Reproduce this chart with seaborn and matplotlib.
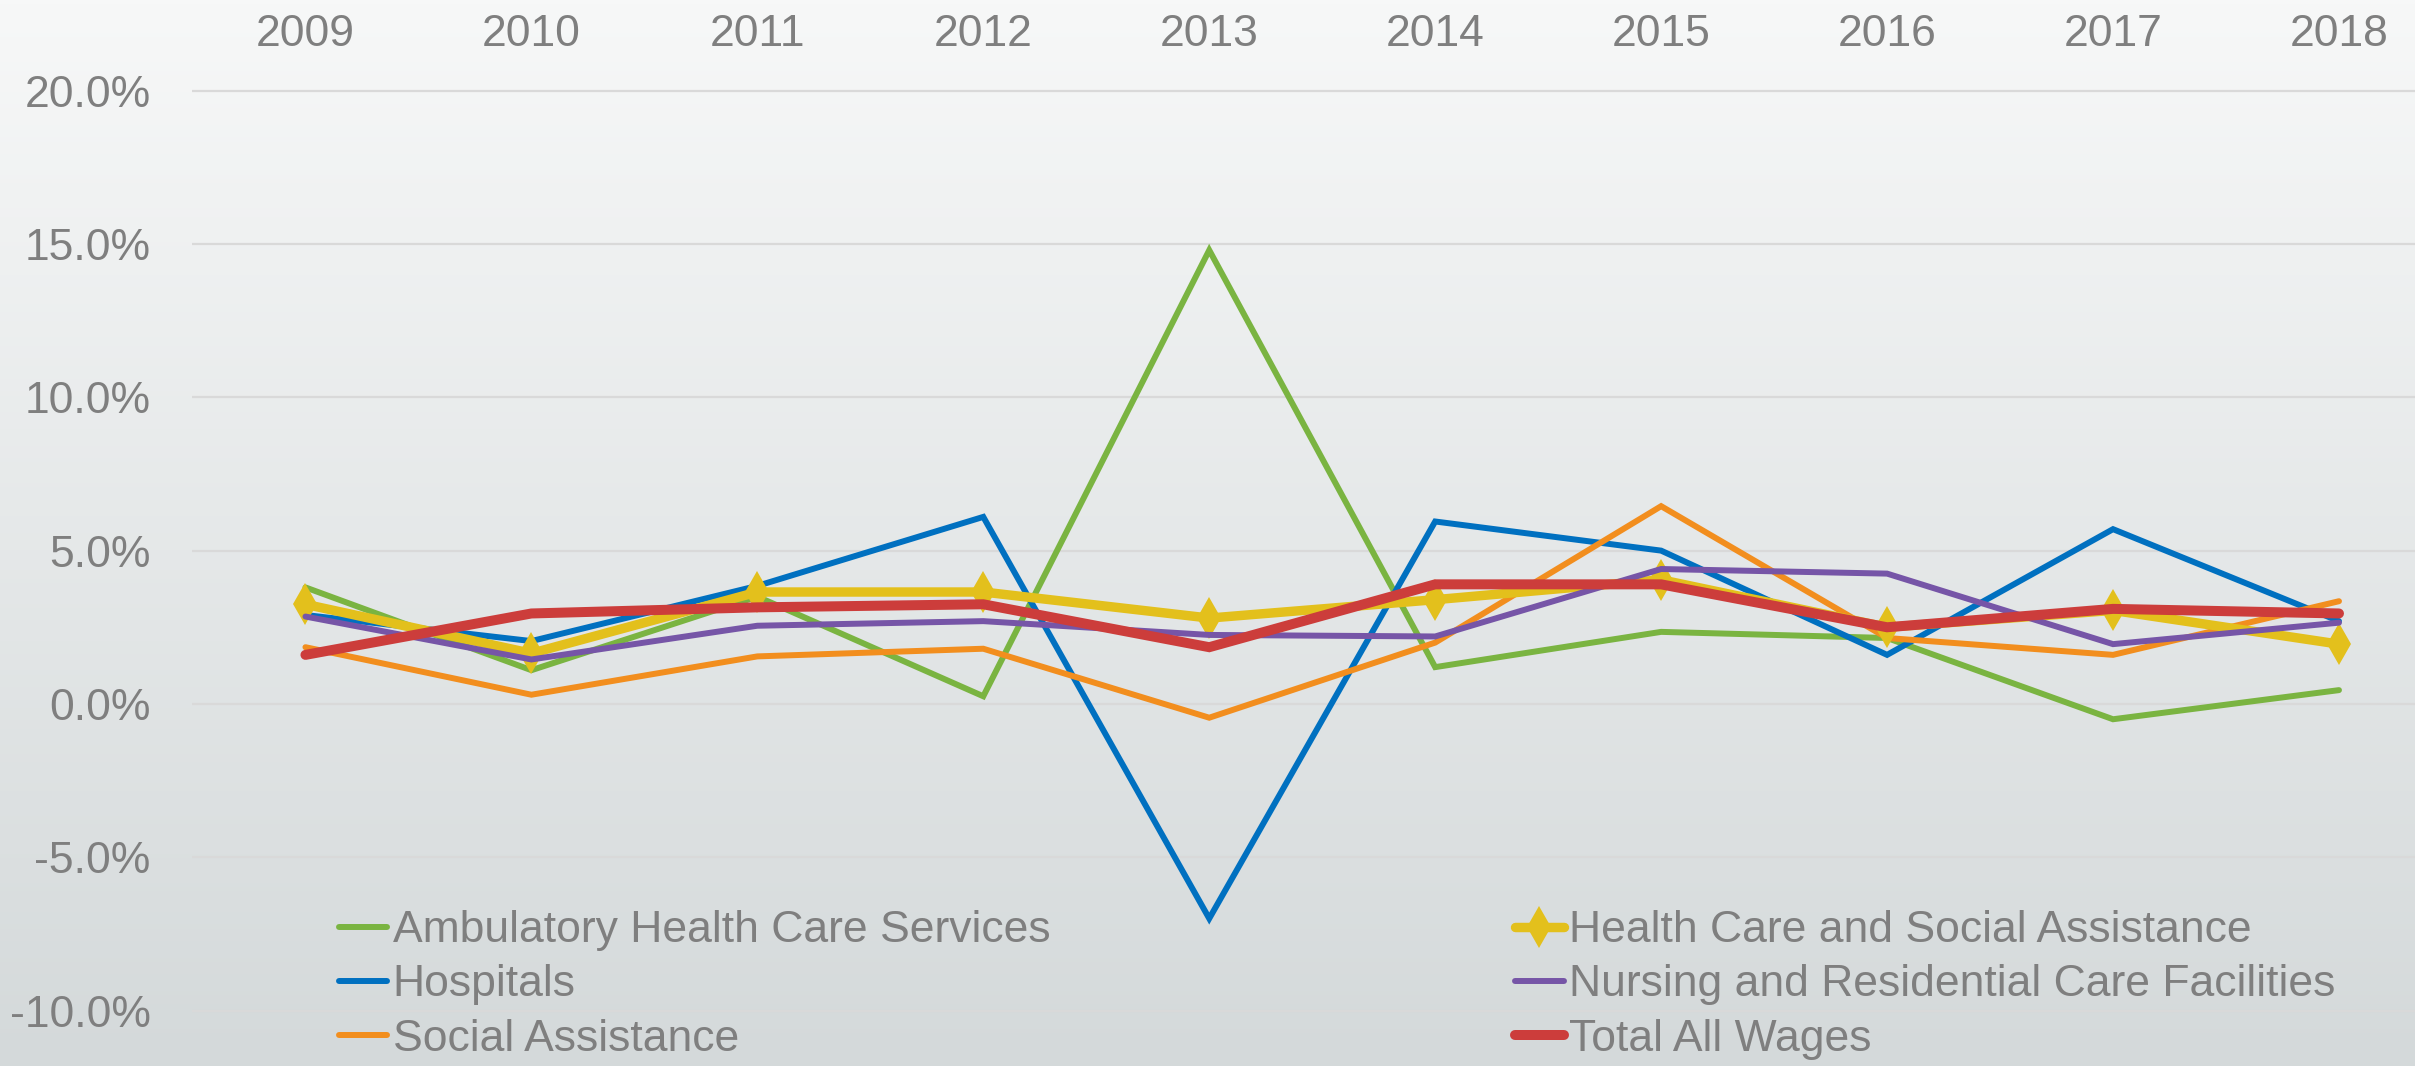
import numpy as np
import pandas as pd
import matplotlib
matplotlib.use("Agg")
import matplotlib.pyplot as plt
import seaborn as sns

# -------------------------------
# 1. DATA (annual wage growth, %)
# -------------------------------
years = [2009, 2010, 2011, 2012, 2013, 2014, 2015, 2016, 2017, 2018]
ambulatory = [3.8, 1.1, 3.5, 0.25, 14.8, 1.2, 2.35, 2.15, -0.5, 0.45]
hospitals = [2.9, 2.05, 3.85, 6.1, -7.0, 5.95, 5.0, 1.6, 5.7, 2.7]
social = [1.85, 0.3, 1.55, 1.8, -0.45, 2.0, 6.45, 2.15, 1.6, 3.35]
health_social = [3.25, 1.65, 3.65, 3.65, 2.8, 3.4, 4.05, 2.5, 3.05, 1.95]
nursing = [2.85, 1.45, 2.55, 2.7, 2.25, 2.2, 4.4, 4.25, 1.95, 2.65]
total_wages = [1.6, 2.95, 3.15, 3.25, 1.85, 3.9, 3.9, 2.5, 3.1, 2.95]

series_names = ["Ambulatory Health Care Services", "Hospitals", "Social Assistance",
                "Health Care and Social Assistance", "Nursing and Residential Care Facilities",
                "Total All Wages"]
series_values = [ambulatory, hospitals, social, health_social, nursing, total_wages]
colors = ["#7AB441", "#0070C0", "#F28E1E", "#E3C01C", "#7655A7", "#CC3D3B"]
y_ticks = [-10, -5, 0, 5, 10, 15, 20]

df = pd.DataFrame({"year": years})
for name, vals in zip(series_names, series_values):
    df[name] = vals

# -------------------------------
# 2. STYLE
# -------------------------------
sns.set_style("white")
plt.rcParams["font.family"] = ["Liberation Sans", "DejaVu Sans"]
text_gray = "#7F7F7F"
fs = 32

fig = plt.figure(figsize=(24.15, 10.66), dpi=100)

# gradient background
bg = fig.add_axes([0, 0, 1, 1], zorder=0)
top_c = np.array([247, 248, 248]) / 255
bot_c = np.array([212, 217, 218]) / 255
t = np.linspace(0, 1, 256)[:, None, None]
grad = top_c * (1 - t) + bot_c * t
bg.imshow(np.repeat(grad, 2, axis=1), aspect="auto", extent=[0, 1, 0, 1])
bg.axis("off")

ax = fig.add_axes([0.0797, 0.0, 0.9356, 0.9422], zorder=1)
ax.patch.set_alpha(0)

# -------------------------------
# 3. LINES
# -------------------------------
for name, col in zip(series_names, colors):
    kw = dict(lw=4.3)
    if name == "Health Care and Social Assistance":
        kw = dict(lw=6.8, marker="d", markersize=21, markeredgewidth=0)
    elif name == "Total All Wages":
        kw = dict(lw=7.2)
    sns.lineplot(data=df, x="year", y=name, color=col, ax=ax, label=name,
                 solid_capstyle="round", solid_joinstyle="miter", **kw)

ax.set_xlim(2008.5, 2018.5)
ax.set_ylim(-11.81, 20.95)
ax.set_xticks(years)
ax.set_xticklabels([str(y) for y in years])
ax.xaxis.tick_top()
ax.set_yticks(y_ticks)
ax.set_yticklabels([f"{v:.1f}%" for v in y_ticks])
ax.tick_params(axis="both", length=0, labelsize=fs, colors=text_gray)
ax.tick_params(axis="x", pad=5)
ax.tick_params(axis="y", pad=30)
ax.set_xlabel("")
ax.set_ylabel("")
ax.yaxis.grid(True, color="#D9D9D9", lw=1.6)
ax.xaxis.grid(False)
for s in ax.spines.values():
    s.set_visible(False)

# -------------------------------
# 4. LEGEND (two columns)
# -------------------------------
h, l = ax.get_legend_handles_labels()
ax.get_legend().remove()
common = dict(frameon=False, fontsize=fs, labelcolor=text_gray, handlelength=1.1,
              handletextpad=0.12, labelspacing=0.3, borderpad=0, loc="center left",
              bbox_transform=fig.transFigure)
leg1 = ax.legend(h[:3], l[:3], bbox_to_anchor=(0.131, 0.076), **common)
ax.add_artist(leg1)
ax.legend(h[3:], l[3:], bbox_to_anchor=(0.618, 0.076), **common)

plt.savefig("out.png", dpi=100)
